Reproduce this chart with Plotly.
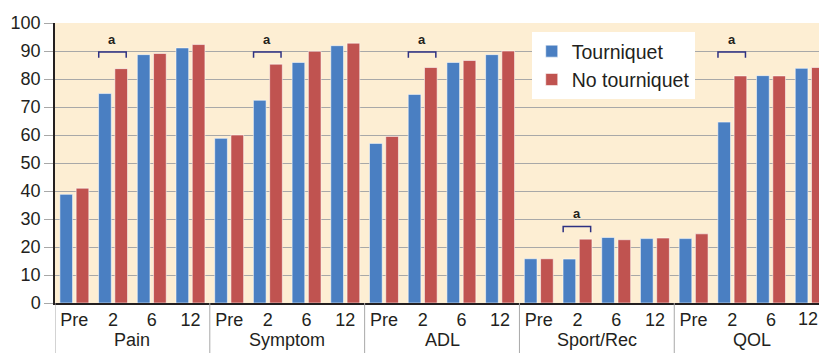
import plotly.graph_objects as go

groups = ["Pain", "Symptom", "ADL", "Sport/Rec", "QOL"]
timepoints = ["Pre", "2", "6", "12"]
tourniquet = [38.8, 74.8, 88.7, 91.1,
              58.8, 72.4, 85.9, 91.9,
              57.0, 74.5, 85.9, 88.7,
              15.8, 15.7, 23.4, 23.0,
              23.0, 64.6, 81.2, 83.8]
no_tourniquet = [41.0, 83.7, 89.1, 92.3,
                 60.0, 85.3, 89.9, 92.8,
                 59.5, 84.1, 86.6, 90.0,
                 15.8, 22.8, 22.6, 23.2,
                 24.7, 81.1, 81.1, 84.1]
# significant differences ("a") : (group, timepoint, bracket level)
significance = [("Pain", "2", 89.6), ("Symptom", "2", 89.6), ("ADL", "2", 89.6),
                ("Sport/Rec", "2", 27.3), ("QOL", "2", 89.6)]

n_t = len(timepoints)
x = list(range(len(groups) * n_t))
ticktext = timepoints * len(groups)

TXT = "#231f20"
FONT = "Liberation Sans, Arial, sans-serif"

fig = go.Figure()
fig.add_trace(go.Bar(x=x, y=tourniquet, name="Tourniquet",
                     marker=dict(color="#4a7fc2", line=dict(color="rgba(255,255,255,0.55)", width=1))))
fig.add_trace(go.Bar(x=x, y=no_tourniquet, name="No tourniquet",
                     marker=dict(color="#c05350", line=dict(color="rgba(255,255,255,0.55)", width=1))))

shapes = []
annotations = []
# group separators and labels
for gi, g in enumerate(groups):
    xs = gi * n_t - 0.5
    shapes.append(dict(type="line", xref="x", yref="paper", x0=xs, x1=xs, y0=0, y1=-0.2,
                       line=dict(color="#a8a8a8", width=1)))
    annotations.append(dict(x=gi * n_t + (n_t - 1) / 2, y=-0.092, xref="x", yref="paper",
                            text=g, showarrow=False, yanchor="top", borderpad=0,
                            font=dict(size=18, color=TXT, family=FONT)))
# last tick label sits on the right edge of the figure: keep it visible
annotations.append(dict(x=1, y=-0.018, xref="paper", yref="paper", text=ticktext[-1],
                        showarrow=False, xanchor="right", yanchor="top", borderpad=0,
                        font=dict(size=18, color=TXT, family=FONT)))
# significance brackets
for g, t, lev in significance:
    xc = groups.index(g) * n_t + timepoints.index(t)
    x0, x1 = xc - 0.37, xc + 0.34
    shapes.append(dict(type="path", xref="x", yref="y",
                       path=f"M {x0},{lev-2} L {x0},{lev} L {x1},{lev} L {x1},{lev-2}",
                       line=dict(color="#2e3182", width=1.5)))
    annotations.append(dict(x=(x0 + x1) / 2, y=lev + 1.2, xref="x", yref="y", text="<b>a</b>",
                            showarrow=False, yanchor="bottom",
                            font=dict(size=13, color=TXT, family=FONT)))

fig.update_layout(
    width=819, height=353,
    margin=dict(l=55, r=0, t=23, b=50),
    paper_bgcolor="white", plot_bgcolor="#fdeed3",
    barmode="group", bargap=0.16, bargroupgap=0.22,
    font=dict(family=FONT, size=18, color=TXT),
    shapes=shapes, annotations=annotations,
    legend=dict(x=0.624, y=0.968, xanchor="left", yanchor="top",
                bgcolor="white", font=dict(size=19.5, color=TXT),
                itemwidth=30, tracegroupgap=0),
    showlegend=True,
)
fig.update_xaxes(range=[-0.5, 19.24], tickmode="array", tickvals=x, ticktext=ticktext,
                 showline=True, linecolor=TXT, linewidth=1.5, ticks="", showgrid=False,
                 tickfont=dict(size=18, color=TXT), zeroline=False, automargin=False)
fig.update_yaxes(range=[0, 100], dtick=10, showline=True, linecolor=TXT, linewidth=1.5,
                 ticks="outside", ticklen=9, tickcolor="#a8a8a8", tickwidth=1,
                 gridcolor="#a8a8a8", gridwidth=1, zeroline=False, automargin=False,
                 tickfont=dict(size=18, color=TXT))

fig.write_html("out.html", config={"displayModeBar": False},
               post_script="document.body.style.margin='0';")
